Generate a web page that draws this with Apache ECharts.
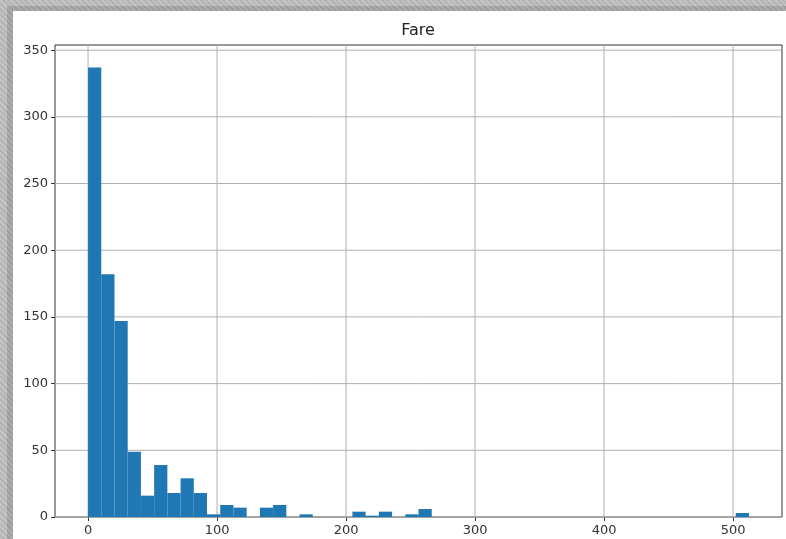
<!DOCTYPE html>
<html>
<head>
<meta charset="utf-8">
<script src="https://cdn.jsdelivr.net/npm/echarts@6/dist/echarts.min.js"></script>
<style>
  html, body { margin: 0; padding: 0; }
  body {
    width: 786px; height: 539px; overflow: hidden; position: relative;
    background: repeating-linear-gradient(45deg, #c4c4c4 0 2px, #b4b4b4 2px 4px);
  }
  #shade { position: absolute; left: 7px; top: 6px; right: 0; bottom: 0; background: rgba(0,0,0,0.12); }
  #panel { position: absolute; left: 13px; top: 11px; right: 0; bottom: 0; background: #fff; }
  #chart { position: absolute; left: 0; top: 0; width: 786px; height: 539px; }
</style>
</head>
<body>
<div id="shade"></div>
<div id="panel"></div>
<div id="chart"></div>
<script>
// Fare histogram, 50 bins over [0, 512.3292]
const fareMin = 0;
const fareMax = 512.3292;
const binCounts = [
  337, 182, 147, 49, 16, 39, 18, 29, 18, 2,
  9, 7, 0, 7, 9, 0, 2, 0, 0, 0,
  4, 1, 4, 0, 2, 6, 0, 0, 0, 0,
  0, 0, 0, 0, 0, 0, 0, 0, 0, 0,
  0, 0, 0, 0, 0, 0, 0, 0, 0, 3
];
const xTicks = [0, 100, 200, 300, 400, 500];
const yTicks = [0, 50, 100, 150, 200, 250, 300, 350];

const binWidth = (fareMax - fareMin) / binCounts.length;
const bins = binCounts.map((c, i) => [fareMin + i * binWidth, fareMin + (i + 1) * binWidth, c]);

const pad = (fareMax - fareMin) * 0.05;
const yMax = Math.max(...binCounts) * 1.05;

const chart = echarts.init(document.getElementById('chart'), null, { renderer: 'canvas' });

const font = 'DejaVu Sans';

chart.setOption({
  backgroundColor: 'transparent',
  animation: false,
  graphic: [{
    type: 'text', x: 418, y: 31,
    style: { text: 'Fare', fontFamily: font, fontSize: 16, fill: '#222', align: 'center', verticalAlign: 'middle' }
  }],
  grid: {
    left: 55, right: 4, top: 45, bottom: 22,
    show: true, borderColor: '#333', borderWidth: 1, backgroundColor: '#fff'
  },
  xAxis: {
    type: 'value', min: fareMin - pad, max: fareMax + pad,
    axisLine: { show: false, onZero: false },
    axisTick: { show: true, length: 4, lineStyle: { color: '#333' }, customValues: xTicks },
    axisLabel: { customValues: xTicks, fontFamily: font, fontSize: 13, color: '#333', margin: 7 },
    splitLine: { show: false }
  },
  yAxis: {
    type: 'value', min: 0, max: yMax,
    axisLine: { show: false, onZero: false },
    axisTick: { show: true, length: 4, lineStyle: { color: '#333' }, customValues: yTicks },
    axisLabel: { customValues: yTicks, fontFamily: font, fontSize: 13, color: '#333', margin: 7 },
    splitLine: { show: false }
  },
  series: [
    {
      type: 'custom',
      silent: true,
      z: 1,
      data: xTicks.map(v => [v]),
      renderItem: (params, api) => {
        const p0 = api.coord([api.value(0), 0]);
        const p1 = api.coord([api.value(0), yMax]);
        return { type: 'line', shape: { x1: p0[0], y1: p0[1], x2: p1[0], y2: p1[1] },
          style: { stroke: '#b0b0b0', lineWidth: 1 } };
      }
    },
    {
      type: 'custom',
      silent: true,
      z: 1,
      data: yTicks.map(v => [v]),
      renderItem: (params, api) => {
        const p0 = api.coord([fareMin - pad, api.value(0)]);
        const p1 = api.coord([fareMax + pad, api.value(0)]);
        return { type: 'line', shape: { x1: p0[0], y1: p0[1], x2: p1[0], y2: p1[1] },
          style: { stroke: '#b0b0b0', lineWidth: 1 } };
      }
    },
    {
      type: 'custom',
      z: 2,
      data: bins,
      encode: { x: [0, 1], y: 2 },
      renderItem: (params, api) => {
        const a = api.coord([api.value(0), 0]);
        const b = api.coord([api.value(1), api.value(2)]);
        return { type: 'rect', shape: { x: a[0], y: b[1], width: b[0] - a[0], height: a[1] - b[1] },
          style: { fill: '#1f77b4' } };
      }
    }
  ]
});
</script>
</body>
</html>
